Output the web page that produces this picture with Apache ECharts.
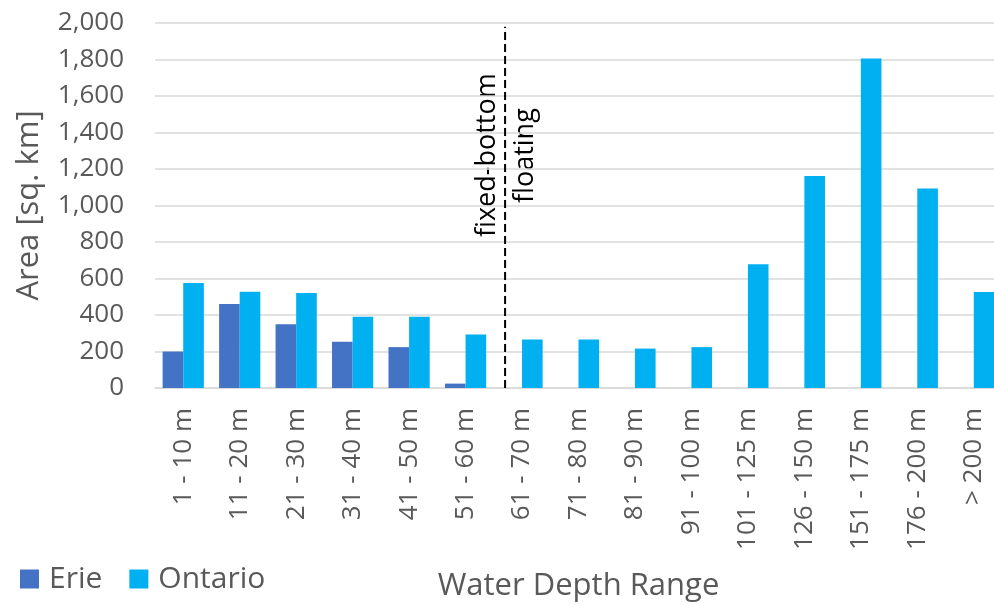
<!DOCTYPE html>
<html>
<head>
<meta charset="utf-8">
<script src="https://cdn.jsdelivr.net/npm/echarts@6/dist/echarts.min.js"></script>
<style>
  html, body { margin: 0; padding: 0; background: #ffffff; }
  #chart { width: 994px; height: 605px; }
</style>
</head>
<body>
<div id="chart"></div>
<script>
// Water depth ranges (x-axis categories)
const depthRanges = ['1 - 10 m', '11 - 20 m', '21 - 30 m', '31 - 40 m', '41 - 50 m', '51 - 60 m',
  '61 - 70 m', '71 - 80 m', '81 - 90 m', '91 - 100 m', '101 - 125 m', '126 - 150 m',
  '151 - 175 m', '176 - 200 m', '> 200 m'];

// Area per depth range, sq. km
const erieArea = [200, 460, 350, 253, 224, 24, null, null, null, null, null, null, null, null, null];
const ontarioArea = [575, 527, 520, 390, 390, 293, 266, 266, 216, 224, 678, 1161, 1805, 1093, 526];

// Boundary between fixed-bottom and floating foundations, in category units from the left edge
const dividerPos = 6.2;
const dividerSpan = [0, 1980];

const yTicks = { min: 0, max: 2000, step: 200 };

const grey = '#595959';
const font = 'Open Sans';

const chart = echarts.init(document.getElementById('chart'));

chart.setOption({
  animation: false,
  textStyle: { fontFamily: font },
  grid: {
    left: 155, top: 23, width: 847, height: 365,
    containLabel: false,
    outerBoundsMode: 'none'
  },
  legend: {
    left: 15,
    top: 559,
    icon: 'rect',
    itemWidth: 19,
    itemHeight: 19,
    itemGap: 27,
    textStyle: { color: grey, fontSize: 30, fontFamily: font, padding: [0, 0, 0, 5] },
    data: ['Erie', 'Ontario']
  },
  xAxis: [
    {
      type: 'category',
      data: depthRanges,
      axisLine: { lineStyle: { color: '#d9d9d9', width: 1.5 } },
      axisTick: { show: false },
      axisLabel: { rotate: 90, margin: 20, color: grey, fontSize: 26, fontFamily: font, interval: 0 },
      name: 'Water Depth Range',
      nameLocation: 'middle',
      nameGap: 183,
      nameTextStyle: { color: grey, fontSize: 31, fontFamily: font }
    },
    {
      type: 'value',
      min: 0,
      max: depthRanges.length,
      show: false
    }
  ],
  yAxis: {
    type: 'value',
    min: yTicks.min,
    max: yTicks.max,
    interval: yTicks.step,
    axisLine: { show: false },
    axisTick: { show: false },
    splitLine: { lineStyle: { color: '#d9d9d9', width: 1.5 } },
    axisLabel: {
      margin: 31,
      color: grey,
      fontSize: 26,
      fontFamily: font,
      formatter: v => v.toLocaleString('en-US')
    },
    name: 'Area [sq. km]',
    nameLocation: 'middle',
    nameGap: 110,
    nameTextStyle: { color: grey, fontSize: 31, fontFamily: font }
  },
  series: [
    {
      name: 'Erie',
      type: 'bar',
      data: erieArea,
      barGap: '0%',
      barCategoryGap: '27%',
      itemStyle: { color: '#4472C4' }
    },
    {
      name: 'Ontario',
      type: 'bar',
      data: ontarioArea,
      barGap: '0%',
      barCategoryGap: '27%',
      itemStyle: { color: '#00B0F0' }
    },
    {
      name: 'divider',
      type: 'line',
      xAxisIndex: 1,
      yAxisIndex: 0,
      data: dividerSpan.map(v => [dividerPos, v]),
      symbol: 'none',
      lineStyle: { color: '#000000', width: 2, type: [8, 4] },
      silent: true,
      z: 5
    }
  ],
  graphic: [
    {
      type: 'text',
      x: 487,
      y: 237,
      rotation: Math.PI / 2,
      style: { text: 'fixed-bottom', fill: '#000000', fontSize: 27, fontFamily: font, align: 'left', verticalAlign: 'middle' }
    },
    {
      type: 'text',
      x: 525,
      y: 203,
      rotation: Math.PI / 2,
      style: { text: 'floating', fill: '#000000', fontSize: 27, fontFamily: font, align: 'left', verticalAlign: 'middle' }
    }
  ]
});
</script>
</body>
</html>
